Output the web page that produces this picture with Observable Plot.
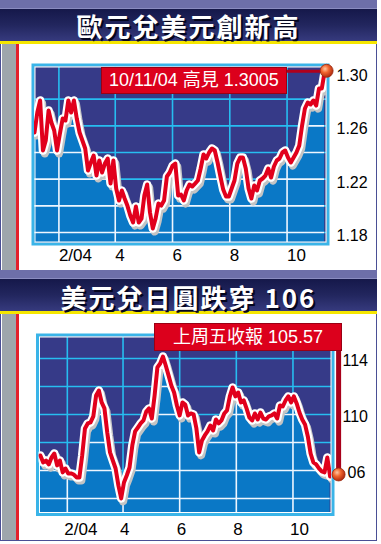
<!DOCTYPE html>
<html><head><meta charset="utf-8">
<script src="https://cdn.jsdelivr.net/npm/d3@7"></script>
<script src="https://cdn.jsdelivr.net/npm/@observablehq/plot@0.6"></script>
<style>
html,body{margin:0;padding:0;background:#fff}
body{width:381px;height:544px;position:relative;overflow:hidden;font-family:"Liberation Sans","Noto Sans CJK TC",sans-serif}
.a{position:absolute}
.title{color:#fff;font-family:"Noto Sans CJK TC",sans-serif;font-weight:700;font-size:26px;letter-spacing:2px;text-align:center;text-shadow:2px 2px 0 #05061e;line-height:30px;white-space:nowrap}
.note{background:#dc001c;color:#fff;font-size:18px;text-align:center;white-space:nowrap;box-sizing:border-box;border:1px solid #9a0014;font-family:"Liberation Sans","Noto Sans CJK TC",sans-serif;z-index:3}
</style></head><body>
<script>
// ---- data ----
const titles = ["歐元兌美元創新高", "美元兌日圓跌穿 106"];
const stepDays = 3;
const eurStart = "2004-01-06";
const eurValues = [1.255,1.270,1.279,1.2415,1.249,1.2715,1.2625,1.2565,1.2415,1.254,
1.2655,1.264,1.279,1.270,1.279,1.2655,1.255,1.249,1.243,1.2265,
1.2325,1.2377,1.2227,1.234,1.225,1.2317,1.2355,1.2167,1.234,1.213,
1.204,1.2115,1.2055,1.200,1.1927,1.1875,1.1995,1.1875,1.1905,1.2077,
1.216,1.195,1.183,1.1905,1.2017,1.2002,1.204,1.222,1.225,1.230,
1.2317,1.2077,1.2085,1.204,1.2115,1.216,1.2145,1.2167,1.219,1.228,
1.2385,1.2355,1.240,1.243,1.2415,1.2325,1.222,1.2122,1.207,1.207,
1.213,1.219,1.2317,1.2362,1.2362,1.228,1.213,1.2055,1.2152,1.2115,
1.219,1.2205,1.2227,1.228,1.2212,1.2295,1.234,1.2355,1.240,1.2415,
1.2362,1.2325,1.2362,1.240,1.2452,1.2602,1.273,1.2775,1.276,1.279,
1.2752,1.288,1.288,1.3005];
const jpyStart = "2004-01-03";
const jpyValues = [107.07,106.57,106.71,106.43,106.93,107.21,106.36,106.71,105.86,106.14,
105.79,105.79,105.71,105.50,105.50,107.07,109.0,109.36,109.43,109.86,
111.36,111.71,110.86,110.43,108.71,107.29,106.71,106.14,104.93,104.0,
105.14,105.64,106.21,107.79,108.79,109.07,109.36,109.57,110.21,110.43,
109.71,111.36,113.36,113.64,114.14,113.5,112.79,112.07,111.57,110.64,
109.93,110.86,110.71,109.93,110.07,110.0,109.0,107.29,108.14,108.5,
108.79,109.21,108.86,109.64,109.36,109.57,110.07,110.29,111.29,111.93,
111.29,111.57,110.86,111.0,110.43,109.79,109.57,110.07,109.64,110.14,
109.71,109.64,109.86,109.93,110.07,109.71,110.64,110.57,111.0,111.29,
110.86,111.29,110.79,110.14,109.64,109.29,108.43,107.21,106.57,106.43,
106.14,105.93,105.86,106.93,105.57];
const monthTicks = ["2004-02-01","2004-04-01","2004-06-01","2004-08-01","2004-10-01"];
const monthLabels = ["2/04","4","6","8","10"];
const eurYTicks = [1.18,1.22,1.26,1.30];
const eurYLabels = ["1.18","1.22","1.26","1.30"];
const eurGrid = [1.18,1.20,1.22,1.24,1.26,1.28];
const jpyYTicks = [114,110,106];
const jpyYLabels = ["114","110","06"];
const jpyGrid = [104,106,108,110,112,114];

// ---- layout helpers ----
function box(css){const d=document.createElement("div");d.className="a";Object.assign(d.style,css);document.body.appendChild(d);return d;}
function px(v){return v+"px";}

box({left:"0px",top:"0px",width:"377px",height:"541px",border:"1.5px solid #4a4f95",boxSizing:"border-box"});
function header(top, text, textTop){
  box({left:"0px",top:px(top),width:"377px",height:px(9),background:"#6d6fa9"});
  box({left:"0px",top:px(top+8),width:"377px",height:px(1),background:"#8a8cc0"});
  box({left:"0px",top:px(top+9),width:"377px",height:px(32),background:"linear-gradient(#15184a,#22265e 50%,#363a7e)"});
  box({left:"0px",top:px(top+41),width:"377px",height:px(3),background:"#f5e600"});
  const t=box({left:"0px",top:px(textTop),width:"377px"});t.className="a title";t.textContent=text;
}
function bodyStrip(top,h){
  box({left:"1.5px",top:px(top),width:"14.5px",height:px(h),background:"#9ea6ac"});
  box({left:"16px",top:px(top),width:"2.5px",height:px(h),background:"#e3202c"});
}
header(0, titles[0], 11);
bodyStrip(44, 227);
box({left:"0px",top:"270px",width:"377px",height:"2px",background:"#3a3f86"});
header(270, titles[1], 282);
bodyStrip(314, 225.5);

function makePanel(cfg){
  const t0 = new Date(cfg.start+"T00:00:00Z");
  const data = cfg.values.map((v,i)=>({date:d3.utcDay.offset(t0,i*stepDays), v}));
  const last = data[data.length-1];
  const ticks = monthTicks.map((d,i)=>({d:new Date(d+"T00:00:00Z"), label:monthLabels[i]}));
  const yt = cfg.yTicks.map((v,i)=>({v, label:cfg.yLabels[i]}));
  const ybot = cfg.yDomain[0];
  const gridOpts = {strokeWidth:1.6};
  const svg = Plot.plot({
    width:381, height:cfg.height,
    marginTop:cfg.mt, marginBottom:cfg.mb, marginLeft:cfg.ml, marginRight:cfg.mr,
    x:{type:"utc", domain:cfg.xDomain, axis:null},
    y:{domain:cfg.yDomain, axis:null},
    style:{background:"transparent", overflow:"visible", fontFamily:"Liberation Sans, sans-serif"},
    marks:[
      Plot.frame({fill:"#363a88", stroke:null}),
      Plot.ruleY(cfg.grid, {stroke:"#27bdf0", ...gridOpts}),
      Plot.ruleX(ticks, {x:"d", stroke:"#27bdf0", ...gridOpts}),
      Plot.areaY(data, {x:"date", y1:ybot, y2:"v", fill:"#0a78c6", ariaDescription:"fillarea"}),
      Plot.ruleY(cfg.grid, {stroke:"#eef6ff", ...gridOpts, ariaDescription:"gridwhite"}),
      Plot.ruleX(ticks, {x:"d", stroke:"#eef6ff", ...gridOpts, ariaDescription:"gridwhite"}),
      Plot.frame({stroke:"#3ab4e8", strokeWidth:3, inset:-1.5}),
      Plot.frame({stroke:"#ffffff", strokeWidth:1, inset:0.5}),
      Plot.line(data, {x:"date", y:"v", stroke:"#c4c4c4", strokeWidth:8, dx:2, dy:3, strokeLinejoin:"round", clip:true}),
      Plot.line(data, {x:"date", y:"v", stroke:"#ffffff", strokeWidth:8.5, strokeLinejoin:"round", clip:true}),
      Plot.line(data, {x:"date", y:"v", stroke:"#e1001c", strokeWidth:4, strokeLinejoin:"round", clip:true}),
      ...cfg.leader(last),
      Plot.text(ticks, {x:"d", text:"label", frameAnchor:"bottom", dy:cfg.xdy, dx:cfg.xdx, textAnchor:"start", lineAnchor:"middle", fontSize:17, fill:"#000"}),
      Plot.text(yt.filter(d=>d.label.length>2), {y:"v", text:"label", frameAnchor:"right", dx:cfg.ydx, dy:cfg.ydy, textAnchor:"start", fontSize:16, fill:"#000"}),
      Plot.text(yt.filter(d=>d.label.length<=2), {y:"v", text:"label", frameAnchor:"right", dx:cfg.ydx+5, dy:cfg.ydy, textAnchor:"start", fontSize:16, fill:"#000"}),
      Plot.dot([last], {x:"date", y:"v", r:6.5, dx:cfg.dotdx, dy:cfg.dotdy, fill:`url(#${cfg.id}-dot)`, stroke:"#9a2a10", strokeWidth:0.8})
    ]
  });
  const s = d3.select(svg);
  const defs = s.insert("defs", ":first-child");
  const g = defs.append("radialGradient").attr("id", cfg.id+"-dot").attr("cx","38%").attr("cy","35%").attr("r","65%");
  g.append("stop").attr("offset","0%").attr("stop-color","#ffc6a0");
  g.append("stop").attr("offset","45%").attr("stop-color","#f0652e");
  g.append("stop").attr("offset","100%").attr("stop-color","#b02a10");
  const areaPath = svg.querySelector('[aria-description="fillarea"] path');
  if (areaPath){
    defs.append("clipPath").attr("id", cfg.id+"-clip").append("path").attr("d", areaPath.getAttribute("d"));
    svg.querySelectorAll('[aria-description="gridwhite"]').forEach(el=>el.setAttribute("clip-path",`url(#${cfg.id}-clip)`));
  }
  svg.style.position="absolute"; svg.style.left="0px"; svg.style.top=px(cfg.top); svg.style.zIndex="1";
  document.body.appendChild(svg);
  return last;
}

const eurLast = makePanel({id:"eur", start:eurStart, values:eurValues, top:44, height:227, mt:22, mb:29, ml:34, mr:55,
  xDomain:[new Date("2004-01-06T00:00:00Z"), new Date("2004-11-12T00:00:00Z")], yDomain:[1.1725,1.3045],
  grid:eurGrid, yTicks:eurYTicks, yLabels:eurYLabels, xdy:13, xdx:0, ydx:10, ydy:3.5, dotdx:2, dotdy:-1,
  leader:(last)=>[Plot.ruleY([last], {y:"v", x1:new Date("2004-09-28T00:00:00Z"), x2:"date", dy:-0.5, stroke:"#b0001c", strokeWidth:3})]});
const jpyLast = makePanel({id:"jpy", start:jpyStart, values:jpyValues, top:314, height:226, mt:22, mb:27.5, ml:38.5, mr:50,
  xDomain:[new Date("2004-01-01T12:00:00Z"), new Date("2004-11-11T12:00:00Z")], yDomain:[102.96,115.57],
  grid:jpyGrid, yTicks:jpyYTicks, yLabels:jpyYLabels, xdy:16.5, xdx:-3, ydx:11, ydy:2, dotdx:8.5, dotdy:-2,
  leader:(last)=>[Plot.ruleX([last], {x:"date", y1:"v", y2:114.6, dx:8.5, stroke:"#a8001a", strokeWidth:5})]});

// annotation boxes
const n1 = box({left:"101px",top:"67px",width:"186px",height:"27px",lineHeight:"25px"}); n1.className="a note";
n1.textContent = `${d3.utcFormat("%d/%m/%y")(eurLast.date)} 高見 ${eurLast.v.toFixed(4)}`;
const n2 = box({left:"154px",top:"323px",width:"188px",height:"28px",lineHeight:"26px"}); n2.className="a note";
n2.textContent = `上周五收報 ${jpyLast.v.toFixed(2)}`;
</script>
</body></html>
